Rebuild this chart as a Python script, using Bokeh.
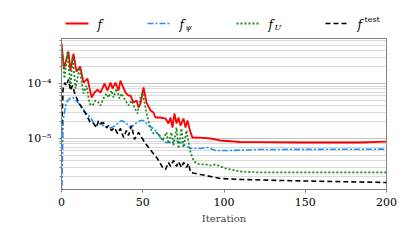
from bokeh.plotting import figure
from bokeh.models import Range1d, FixedTicker
from bokeh.layouts import column
from bokeh.core.properties import value
from bokeh.embed import file_html
from bokeh.resources import INLINE

# ---------------- data ----------------
f_it = [0, 1.5, 4.3, 5.5, 7.4, 9.2, 11.5, 13.5, 16, 18.5, 20.3, 22.2, 24, 26.5, 28.3, 30.2,
        31.4, 33.2, 35.1, 36.3, 37.5, 39.4, 41.2, 42.5, 44.3, 46.2, 47.4, 48.6, 50.5, 52.3,
        54.8, 56.6, 57.8, 60.9, 64, 65.8, 67.1, 68.3, 69.5, 70.8, 72, 73.2, 75.1, 76.3, 77.5,
        79.4, 80.6, 85.5, 91.7, 97.8, 110, 122, 147, 184, 200]
f_val = [5.33e-4, 1.87e-4, 3.82e-4, 1.72e-4, 3.51e-4, 1.65e-4, 2.04e-4, 1.04e-4, 1.23e-4,
         5.56e-5, 6.86e-5, 7.7e-5, 6.86e-5, 1.0e-4, 7.46e-5, 1.04e-4, 8.11e-5, 1.04e-4,
         7.46e-5, 1.13e-4, 9.2e-5, 6.86e-5, 6.05e-5, 6.05e-5, 4.51e-5, 4.91e-5, 3.66e-5,
         4.33e-5, 8.46e-5, 4.51e-5, 3.23e-5, 2.97e-5, 2.41e-5, 2.41e-5, 2.31e-5, 1.87e-5,
         2.41e-5, 1.58e-5, 2.85e-5, 1.87e-5, 2.41e-5, 1.72e-5, 2.31e-5, 1.58e-5, 2.12e-5,
         1.29e-5, 1.04e-5, 1.04e-5, 1.0e-5, 9.2e-6, 8.64e-6, 8.6e-6, 8.46e-6, 8.46e-6, 8.8e-6]

fpsi_it = [0, 1, 2, 3, 5, 7, 9, 11.7, 14.8, 17.8, 19.7, 21.5, 24, 25.8, 28.9, 32, 35.1, 36.9,
           39.4, 42.5, 45.5, 48.6, 50.5, 53.5, 56.6, 57.8, 60.9, 64, 67.1, 70.2, 73.2, 76.3,
           79.4, 85.5, 89.8, 94.8, 104, 122, 200]
fpsi_val = [5e-7, 2.12e-5, 3.23e-5, 4.51e-5, 5.33e-5, 5.56e-5, 4.91e-5, 3.98e-5, 2.97e-5,
            2.41e-5, 1.95e-5, 1.72e-5, 1.87e-5, 1.72e-5, 1.52e-5, 1.65e-5, 1.95e-5, 2.12e-5,
            1.95e-5, 1.58e-5, 1.87e-5, 2.12e-5, 2.12e-5, 1.72e-5, 1.52e-5, 1.40e-5, 1.04e-5,
            8.46e-6, 8.46e-6, 9.2e-6, 8.46e-6, 7.46e-6, 6.58e-6, 6.58e-6, 6.86e-6, 6.05e-6,
            6.05e-6, 6.31e-6, 6.4e-6]

fU_it = [0, 1.8, 3.7, 5.5, 6.8, 8.6, 11.1, 13.5, 15.4, 17.2, 19.1, 20.9, 22.8, 24, 25.8, 27.7,
         28.9, 30.8, 32, 33.8, 35.7, 36.9, 39.4, 41.2, 43.1, 44.9, 46.8, 48.6, 49.8, 51.7, 52.9,
         54.8, 56.6, 57.8, 59.7, 62.2, 64.6, 65.8, 67.7, 68.9, 70.8, 72, 73.8, 75.1, 76.9, 78.2,
         79.4, 81.2, 83.1, 85.5, 88.6, 91.7, 94.8, 100.9, 110, 122, 200]
fU_val = [5.33e-4, 1.23e-4, 3.82e-4, 8.11e-5, 3.23e-4, 8.11e-5, 1.95e-4, 6.58e-5, 9.2e-5,
          4.33e-5, 3.98e-5, 4.91e-5, 4.51e-5, 3.98e-5, 5.33e-5, 6.58e-5, 5.56e-5, 7.46e-5,
          5.56e-5, 8.11e-5, 5.33e-5, 6.58e-5, 4.91e-5, 3.98e-5, 4.91e-5, 3.66e-5, 2.85e-5,
          5.56e-5, 6.86e-5, 3.66e-5, 2.41e-5, 1.52e-5, 1.23e-5, 1.29e-5, 1.23e-5, 9.2e-6,
          1.29e-5, 8.11e-6, 1.29e-5, 7.46e-6, 1.58e-5, 6.58e-6, 1.52e-5, 6.86e-6, 1.40e-5,
          8.46e-6, 5.56e-6, 3.98e-6, 3.51e-6, 3.37e-6, 3.37e-6, 3.23e-6, 3.37e-6, 2.85e-6,
          2.51e-6, 2.41e-6, 2.41e-6]

ftest_it = [0, 1, 2, 3, 4.3, 5.5, 6.8, 8, 9.2, 10.5, 11.7, 14.8, 17.8, 19.7, 21.5, 22.8, 24.6,
            25.8, 27.7, 28.9, 30.8, 32.6, 34.5, 36.3, 38.2, 40, 41.2, 43.1, 44.9, 47.4, 50.5,
            53.5, 56, 59, 62.2, 64, 65.8, 67.1, 68.9, 70.8, 72, 73.8, 75.1, 76.9, 78.2, 79.4,
            82.5, 85.5, 91.7, 97.8, 110, 135, 166, 200]
ftest_val = [1.29e-5, 8.11e-5, 1.04e-4, 9.2e-5, 1.18e-4, 7.46e-5, 9.2e-5, 6.86e-5, 5.56e-5,
             4.51e-5, 3.98e-5, 2.85e-5, 1.95e-5, 1.87e-5, 1.58e-5, 2.12e-5, 1.87e-5, 1.95e-5,
             1.58e-5, 1.72e-5, 1.40e-5, 1.58e-5, 1.23e-5, 1.52e-5, 1.04e-5, 1.40e-5, 1.13e-5,
             1.72e-5, 9.6e-6, 1.29e-5, 9.2e-6, 6.86e-6, 5.56e-6, 4.33e-6, 2.97e-6, 2.73e-6,
             3.66e-6, 3.1e-6, 3.98e-6, 3.1e-6, 3.8e-6, 2.97e-6, 3.66e-6, 2.97e-6, 3.51e-6,
             2.41e-6, 2.31e-6, 2.21e-6, 2.04e-6, 1.87e-6, 1.80e-6, 1.72e-6, 1.65e-6, 1.58e-6]

x_ticks = [0, 50, 100, 150, 200]
y_major = [1e-5, 1e-4]
y_labels = {1e-5: "10\u207b\u2075", 1e-4: "10\u207b\u2074"}
y_minor = [k * 1e-6 for k in range(2, 10)] + [k * 1e-5 for k in range(2, 10)] + [k * 1e-4 for k in range(2, 7)]

SERIF = "DejaVu Serif"
RED, BLUE, GREEN, BLACK = "#ff0000", "#1e90ff", "#1a8c1a", "#000000"
DASH_PSI = "6 2 2 2"
DASH_U = "2 2"
DASH_TEST = "5 3"

# ---------------- main plot ----------------
p = figure(frame_width=325, frame_height=151, y_axis_type="log",
           x_range=Range1d(0, 200), y_range=Range1d(1.18e-6, 6.6e-4),
           output_backend="svg", toolbar_location=None,
           min_border_left=61, min_border_right=13, min_border_top=2, min_border_bottom=45)
p.background_fill_color = "white"
p.border_fill_color = "white"
p.outline_line_color = "#808080"
p.outline_line_width = 1

p.line(f_it, f_val, line_color=RED, line_width=1.8)
p.line(fpsi_it, fpsi_val, line_color=BLUE, line_width=1.6, line_dash=DASH_PSI)
p.line(fU_it, fU_val, line_color=GREEN, line_width=1.8, line_dash=DASH_U)
p.line(ftest_it, ftest_val, line_color=BLACK, line_width=1.6, line_dash=DASH_TEST)

p.xaxis.ticker = FixedTicker(ticks=x_ticks)
p.yaxis.ticker = FixedTicker(ticks=y_major, minor_ticks=y_minor)
p.yaxis.major_label_overrides = y_labels

p.xgrid.grid_line_color = None
p.ygrid.grid_line_color = "#c4c4c4"
p.ygrid.minor_grid_line_color = "#dadada"

for ax in (p.xaxis, p.yaxis):
    ax.axis_line_color = "#808080"
    ax.major_tick_line_color = "#808080"
    ax.minor_tick_line_color = "#808080"
    ax.major_tick_in = 0
    ax.major_tick_out = 3
    ax.minor_tick_in = 0
    ax.minor_tick_out = 2
    ax.major_label_text_font = SERIF
    ax.major_label_text_font_size = "11px"
    ax.major_label_text_color = "black"
p.xaxis.minor_tick_line_color = None
p.xaxis.major_label_standoff = 5
p.yaxis.major_label_standoff = 7
p.xaxis.axis_label = "Iteration"
p.xaxis.axis_label_text_font = SERIF
p.xaxis.axis_label_text_font_style = "normal"
p.xaxis.axis_label_text_font_size = "10px"
p.xaxis.axis_label_standoff = 4

# ---------------- legend strip (frame aligned with main frame; x in page px) ----------------
lg = figure(frame_width=325, frame_height=36, x_range=Range1d(61, 386), y_range=Range1d(36, 0),
            output_backend="svg", toolbar_location=None,
            min_border_left=61, min_border_right=13, min_border_top=0, min_border_bottom=0)
lg.axis.visible = False
lg.grid.visible = False
lg.outline_line_color = None
lg.background_fill_color = "white"
lg.border_fill_color = "white"

ly = 23
lg.line([65, 88], [ly, ly], line_color=RED, line_width=1.8)
lg.line([147, 170], [ly, ly], line_color=BLUE, line_width=1.6, line_dash=DASH_PSI)
lg.line([236, 259], [ly, ly], line_color=GREEN, line_width=1.8, line_dash=DASH_U)
lg.line([325, 348], [ly, ly], line_color=BLACK, line_width=1.6, line_dash=DASH_TEST)

main_x = [97, 179, 268, 357]
lg.text(main_x, [ly + 1] * 4, text=["f"] * 4, text_font=value(SERIF), text_font_style="italic",
        text_font_size="12px", text_baseline="middle", text_align="left")
lg.text([185], [ly + 4], text=["\u03c8"], text_font=value(SERIF), text_font_style="italic",
        text_font_size="8px", text_baseline="middle", text_align="left")
lg.text([274], [ly + 4], text=["U"], text_font=value(SERIF), text_font_style="italic",
        text_font_size="8px", text_baseline="middle", text_align="left")
lg.text([364], [ly - 4], text=["test"], text_font=value(SERIF),
        text_font_size="8px", text_baseline="middle", text_align="left")

layout = column(lg, p, spacing=0)
open("out.html", "w").write(file_html(layout, INLINE))
